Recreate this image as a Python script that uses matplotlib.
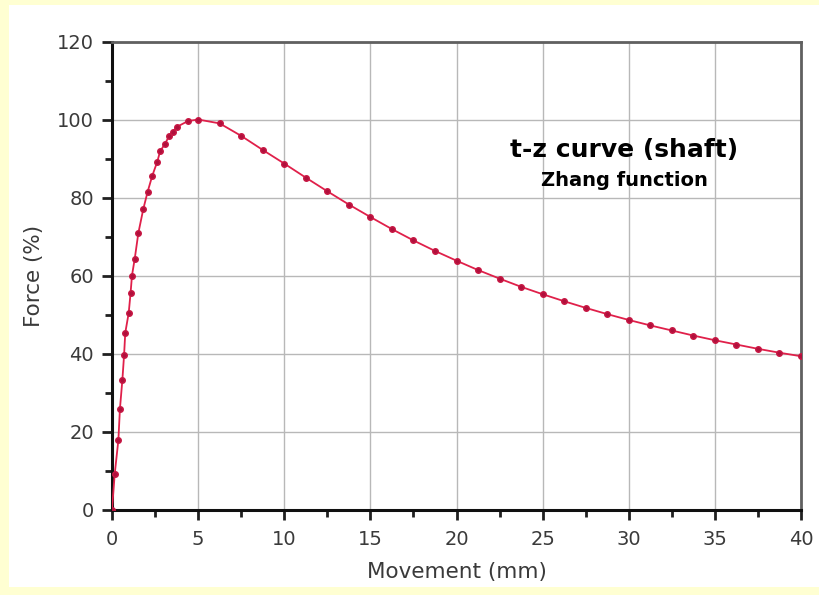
import matplotlib
matplotlib.use("Agg")
import matplotlib.pyplot as plt
from matplotlib.patches import Rectangle
from matplotlib.ticker import MultipleLocator

# movement (mm) and force (%)
movement = [0.0, 0.16, 0.37, 0.46, 0.60, 0.70, 0.77, 0.97, 1.08, 1.16, 1.32,
            1.53, 1.82, 2.07, 2.34, 2.63, 2.79, 3.08, 3.31, 3.52, 3.76, 4.41,
            5.0, 6.25, 7.5, 8.75, 10.0, 11.25, 12.5, 13.75, 15.0, 16.25, 17.5,
            18.75, 20.0, 21.25, 22.5, 23.75, 25.0, 26.25, 27.5, 28.75, 30.0,
            31.25, 32.5, 33.75, 35.0, 36.25, 37.5, 38.75, 40.0]
force = [0.0, 9.2, 17.8, 25.8, 33.1, 39.5, 45.3, 50.4, 55.6, 60.0, 64.3,
         70.9, 77.1, 81.5, 85.6, 89.2, 91.8, 93.8, 95.7, 96.8, 98.1, 99.6,
         100.0, 99.0, 95.8, 92.2, 88.7, 85.1, 81.6, 78.2, 75.0, 71.9, 69.0,
         66.3, 63.8, 61.4, 59.2, 57.1, 55.2, 53.4, 51.7, 50.1, 48.6, 47.2,
         45.9, 44.6, 43.4, 42.3, 41.2, 40.2, 39.3]

title = "t-z curve (shaft)"
subtitle = "Zhang function"

fig = plt.figure(figsize=(8.19, 5.95), dpi=100)
fig.patch.set_facecolor("#FFFFD2")
# white card inside the yellow frame
fig.patches.append(Rectangle((9 / 819, 8 / 595), 1, 1 - 13 / 595,
                             transform=fig.transFigure, facecolor="white",
                             edgecolor="none", zorder=-10))

ax = fig.add_axes([112 / 819, 1 - 509.5 / 595, 689 / 819, 468 / 595])
ax.plot(movement, force, color="#E0204A", lw=1.3, zorder=3)
ax.plot(movement, force, "o", ms=4, color="#B0103C", mec="#C81844", zorder=4)

ax.set_xlim(0, 40)
ax.set_ylim(0, 120)
ax.xaxis.set_major_locator(MultipleLocator(5))
ax.xaxis.set_minor_locator(MultipleLocator(2.5))
ax.yaxis.set_major_locator(MultipleLocator(20))
ax.yaxis.set_minor_locator(MultipleLocator(10))
ax.grid(True, which="major", color="#B8B8B8", lw=1)
ax.set_axisbelow(True)

ax.tick_params(which="major", length=7, width=2, color="#202020",
               labelsize=14, labelcolor="#3A3A3A", pad=6)
ax.tick_params(axis="x", which="major", pad=8)
ax.tick_params(which="minor", length=5, width=2, color="#202020")
for side in ["left", "bottom"]:
    ax.spines[side].set_color("#101010")
    ax.spines[side].set_linewidth(2.2)
for side in ["top", "right"]:
    ax.spines[side].set_color("#606060")
    ax.spines[side].set_linewidth(2)

ax.set_xlabel("Movement (mm)", fontsize=15.5, color="#3A3A3A", labelpad=9)
ax.set_ylabel("Force (%)", fontsize=15.5, color="#3A3A3A", labelpad=9)

ax.text(29.75, 90.4, title, ha="center", va="baseline", fontsize=18,
        fontweight="bold", color="black")
ax.text(29.75, 82.9, subtitle, ha="center", va="baseline", fontsize=14,
        fontweight="bold", color="black")

fig.savefig("out.png", dpi=100)
